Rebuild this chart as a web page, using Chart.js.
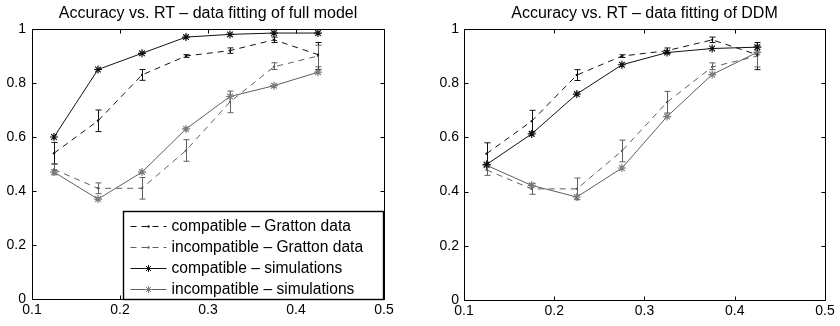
<!DOCTYPE html>
<html><head><meta charset="utf-8">
<script src="https://cdn.jsdelivr.net/npm/chart.js@4.4.0/dist/chart.umd.min.js"></script>
<style>
html,body{margin:0;padding:0;background:#fff;}
#wrap{position:relative;width:840px;height:326px;overflow:hidden;}
.c{position:absolute;top:0;width:420px;height:326px;}
</style></head><body>
<div id="wrap">
<div class="c" style="left:0"><canvas id="c1" width="420" height="326"></canvas></div>
<div class="c" style="left:420px"><canvas id="c2" width="420" height="326"></canvas></div>
</div>
<script>
// ---- data ----
const rt = [0.125, 0.175, 0.225, 0.275, 0.325, 0.375, 0.425];
const xTicks = [0.1, 0.2, 0.3, 0.4, 0.5];
const yTicks = [0, 0.2, 0.4, 0.6, 0.8, 1];
const seriesNames = ['compatible – Gratton data', 'incompatible – Gratton data', 'compatible – simulations', 'incompatible – simulations'];
const titles = ['Accuracy vs. RT – data fitting of full model', 'Accuracy vs. RT – data fitting of DDM'];

const grattonComp = [0.54, 0.66, 0.83, 0.90, 0.92, 0.96, 0.905];
const grattonCompLow = [0.50, 0.62, 0.81, 0.895, 0.91, 0.95, 0.85];
const grattonCompHigh = [0.58, 0.70, 0.85, 0.905, 0.93, 0.97, 0.95];
const grattonInc = [0.48, 0.41, 0.41, 0.55, 0.73, 0.86, 0.90];
const grattonIncLow = [0.46, 0.39, 0.37, 0.51, 0.69, 0.85, 0.86];
const grattonIncHigh = [0.50, 0.43, 0.45, 0.59, 0.77, 0.875, 0.94];

const fullCompSim = [0.60, 0.85, 0.91, 0.97, 0.98, 0.985, 0.985];
const fullIncSim = [0.47, 0.37, 0.47, 0.63, 0.75, 0.79, 0.84];
const ddmCompSim = [0.50, 0.613, 0.76, 0.868, 0.913, 0.928, 0.933];
const ddmIncSim = [0.497, 0.423, 0.38, 0.487, 0.677, 0.832, 0.914];

// ---- styles ----
const BLACK = '#111111';
const GRAY = '#5f5f5f';
const GRAY_MK = '#7a7a7a';
const FONT = '"Liberation Sans", Arial, Helvetica, sans-serif';

function pts(ys) { return rt.map((x, i) => ({x: x, y: ys[i]})); }

function makeDatasets(compSim, incSim) {
  return [
    {label: seriesNames[0], data: pts(grattonComp), borderColor: BLACK, backgroundColor: BLACK,
     borderDash: [6, 5], borderWidth: 1, pointRadius: 1.2, pointBorderWidth: 0, pointBackgroundColor: BLACK,
     err: {low: grattonCompLow, high: grattonCompHigh}},
    {label: seriesNames[1], data: pts(grattonInc), borderColor: GRAY, backgroundColor: GRAY,
     borderDash: [6, 5], borderWidth: 1, pointRadius: 1.2, pointBorderWidth: 0, pointBackgroundColor: GRAY,
     err: {low: grattonIncLow, high: grattonIncHigh}},
    {label: seriesNames[2], data: pts(compSim), borderColor: BLACK, backgroundColor: BLACK,
     borderWidth: 1, pointStyle: 'star', pointRadius: 4, pointBorderWidth: 1.2, pointBorderColor: BLACK},
    {label: seriesNames[3], data: pts(incSim), borderColor: GRAY, backgroundColor: GRAY,
     borderWidth: 1, pointStyle: 'star', pointRadius: 4, pointBorderWidth: 1.2, pointBorderColor: GRAY_MK}
  ];
}

// error bars + box + inward ticks; title centred over the plot area
const framePlugin = {
  id: 'frame',
  afterLayout(chart) {
    const t = chart.titleBlock, a = chart.chartArea;
    if (t && a) { t.left = a.left; t.right = a.right; t.width = a.right - a.left; }
  },
  beforeDatasetsDraw(chart) {
    const ctx = chart.ctx, xs = chart.scales.x, ys = chart.scales.y;
    chart.data.datasets.forEach(ds => {
      if (!ds.err) return;
      ctx.save();
      ctx.strokeStyle = ds.borderColor; ctx.lineWidth = 1;
      rt.forEach((x, i) => {
        const px = Math.round(xs.getPixelForValue(x)) + 0.5;
        const y1 = ys.getPixelForValue(ds.err.low[i]);
        const y2 = ys.getPixelForValue(ds.err.high[i]);
        ctx.beginPath();
        ctx.moveTo(px, y1); ctx.lineTo(px, y2);
        ctx.moveTo(px - 3, y1); ctx.lineTo(px + 3, y1);
        ctx.moveTo(px - 3, y2); ctx.lineTo(px + 3, y2);
        ctx.stroke();
      });
      ctx.restore();
    });
  },
  afterDraw(chart) {
    const ctx = chart.ctx, a = chart.chartArea, xs = chart.scales.x, ys = chart.scales.y;
    ctx.save();
    ctx.strokeStyle = '#000'; ctx.lineWidth = 1;
    const L = Math.round(a.left) + 0.5, R = Math.round(a.right) + 0.5, T = Math.round(a.top) + 0.5, B = Math.round(a.bottom) + 0.5;
    ctx.strokeRect(L, T, R - L, B - T);
    ctx.beginPath();
    const tl = 4;
    xTicks.forEach(v => {
      const p = Math.round(xs.getPixelForValue(v)) + 0.5;
      ctx.moveTo(p, B); ctx.lineTo(p, B - tl);
      ctx.moveTo(p, T); ctx.lineTo(p, T + tl);
    });
    yTicks.forEach(v => {
      const p = Math.round(ys.getPixelForValue(v)) + 0.5;
      ctx.moveTo(L, p); ctx.lineTo(L + tl, p);
      ctx.moveTo(R, p); ctx.lineTo(R - tl, p);
    });
    ctx.stroke();
    ctx.restore();
  }
};

// legend drawn inside the plot (bottom-right)
const boxLegendPlugin = {
  id: 'boxLegend',
  afterDraw(chart, args, opts) {
    if (!opts || !opts.show) return;
    const ctx = chart.ctx, a = chart.chartArea;
    ctx.save();
    ctx.font = '15.6px ' + FONT;
    let maxW = 0;
    chart.data.datasets.forEach(ds => { maxW = Math.max(maxW, ctx.measureText(ds.label).width); });
    const rowH = 21;
    const w = Math.round(48 + maxW + 20);
    const h = rowH * 4 + 4;
    const R = Math.round(a.right) - 0.5, B = Math.round(a.bottom) + 0.5;
    const L = R - w, T = B - h;
    ctx.fillStyle = '#fff';
    ctx.fillRect(L, T, w, h);
    ctx.strokeStyle = '#000'; ctx.lineWidth = 1.4;
    ctx.strokeRect(L, T, w, h);
    chart.data.datasets.forEach((ds, i) => {
      const cy = Math.round(T + 14 + i * rowH) + 0.5;
      ctx.strokeStyle = ds.borderColor; ctx.lineWidth = 1;
      ctx.setLineDash(ds.borderDash || []);
      ctx.beginPath(); ctx.moveTo(L + 7, cy); ctx.lineTo(L + 43, cy); ctx.stroke();
      ctx.setLineDash([]);
      const mx = L + 25;
      if (ds.pointStyle === 'star') {
        Chart.helpers.drawPoint(ctx, {pointStyle: 'star', radius: 3.5, borderWidth: 1.2, rotation: 0}, mx, cy);
        ctx.strokeStyle = ds.pointBorderColor;
        ctx.stroke();
      } else {
        ctx.fillStyle = ds.borderColor;
        ctx.beginPath(); ctx.arc(mx, cy, 1.2, 0, Math.PI * 2); ctx.fill();
      }
      ctx.fillStyle = '#000';
      ctx.textBaseline = 'middle';
      ctx.fillText(ds.label, L + 48, cy);
    });
    ctx.restore();
  }
};

function makeChart(id, title, compSim, incSim, yWidth, yPad, xHeight, padRight, showLegend) {
  return new Chart(document.getElementById(id), {
    type: 'line',
    data: {datasets: makeDatasets(compSim, incSim)},
    options: {
      responsive: false,
      animation: false,
      layout: {padding: {left: 0, right: padRight, top: 0, bottom: 0}},
      plugins: {
        legend: {display: false},
        tooltip: {enabled: false},
        title: {display: true, text: title, color: '#000',
                font: {family: FONT, size: 16, weight: 'normal'}, padding: {top: 4, bottom: 5.8}},
        boxLegend: {show: showLegend}
      },
      scales: {
        x: {type: 'linear', min: 0.1, max: 0.5,
            afterBuildTicks: s => { s.ticks = xTicks.map(v => ({value: v})); },
            afterFit: s => { s.height = xHeight; },
            grid: {display: false, drawTicks: false}, border: {display: false},
            ticks: {color: '#000', padding: 3, maxRotation: 0, autoSkip: false,
                    font: {family: FONT, size: 14}, callback: v => String(v)}},
        y: {type: 'linear', min: 0, max: 1,
            afterBuildTicks: s => { s.ticks = yTicks.map(v => ({value: v})); },
            afterFit: s => { s.width = yWidth; },
            grid: {display: false, drawTicks: false}, border: {display: false},
            ticks: {color: '#000', padding: yPad, autoSkip: false,
                    font: {family: FONT, size: 14}, callback: v => String(v)}}
      }
    },
    plugins: [framePlugin, boxLegendPlugin]
  });
}

makeChart('c1', titles[0], fullCompSim, fullIncSim, 32, 6, 27, 36, true);
makeChart('c2', titles[1], ddmCompSim, ddmIncSim, 44, 5, 26, 15, false);
</script>
</body></html>
